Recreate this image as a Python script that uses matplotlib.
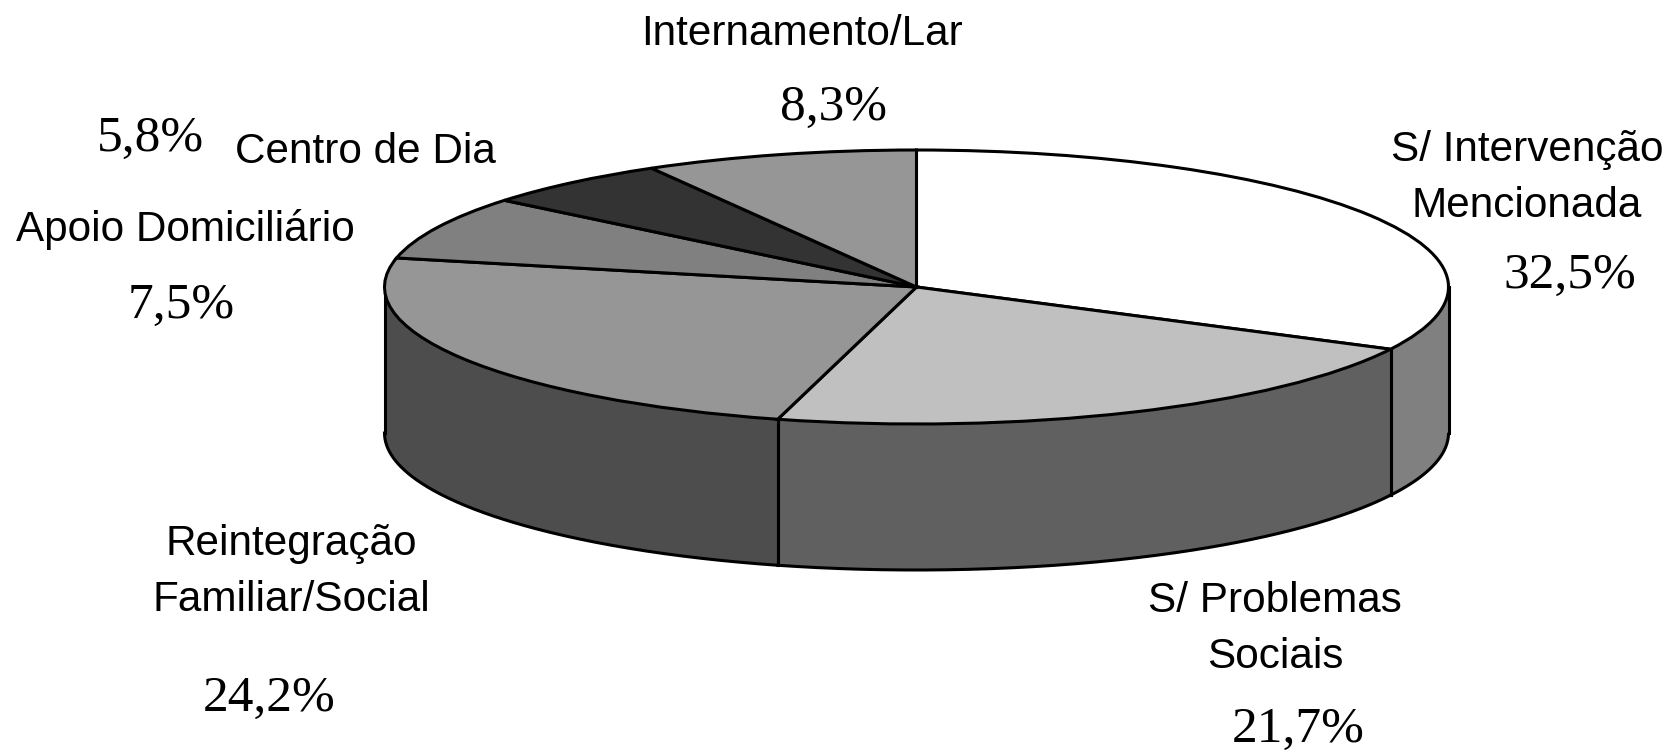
import numpy as np
import matplotlib
matplotlib.use("Agg")
import matplotlib.pyplot as plt

labels = ["S/ Intervenção\nMencionada", "S/ Problemas\nSociais", "Reintegração\nFamiliar/Social",
          "Apoio Domiciliário", "Centro de Dia", "Internamento/Lar"]
valores = [32.5, 21.7, 24.2, 7.5, 5.8, 8.3]
pct = ["32,5%", "21,7%", "24,2%", "7,5%", "5,8%", "8,3%"]
cores = ["#ffffff", "#c0c0c0", "#969696", "#808080", "#333333", "#969696"]
cores_lado = ["#808080", "#606060", "#4d4d4d", "#4d4d4d", "#333333", "#606060"]

W, H = 1671, 750
cx, cy = 916.5, 287
rx, ry = 532, 137
prof = 146 / ry  # espessura do bolo

fig = plt.figure(figsize=(W / 100, H / 100), dpi=100)
ax = fig.add_axes([0, 0, 1, 1])
ax.pie(valores, colors=cores, startangle=90, counterclock=False, radius=1,
       wedgeprops=dict(edgecolor="black", linewidth=2.2, zorder=3))
ax.set_aspect("auto")
ax.set_xlim(-cx / rx, (W - cx) / rx)
ax.set_ylim(-(H - cy) / ry, cy / ry)
ax.axis("off")

# lado do bolo, so a metade da frente
ang = 90 - np.cumsum([0] + valores) * 3.6
for i in range(len(valores)):
    a0, a1 = np.radians(ang[i]), np.radians(ang[i + 1])
    t = np.linspace(a0, a1, 200)
    t = t[np.sin(t) <= 0]
    if len(t) < 2:
        continue
    ax.fill_between(np.cos(t), np.sin(t), np.sin(t) - prof, color=cores_lado[i], linewidth=0, zorder=1)
    ax.plot(np.cos(t), np.sin(t) - prof, color="black", lw=2.2, zorder=2)
    # linhas verticais nas divisoes visiveis
    for a in (a0, a1):
        if np.sin(a) < 0:
            ax.plot([np.cos(a)] * 2, [np.sin(a), np.sin(a) - prof], color="black", lw=2.2, zorder=2)
for s in (-1, 1):
    ax.plot([s, s], [0, -prof], color="black", lw=2.2, zorder=2)


def px(x, y):
    return (x - cx) / rx, (cy - y) / ry


sans = dict(family="Liberation Sans", fontsize=30.4, ha="center", va="center", linespacing=1.49)
serif = dict(family="Liberation Serif", fontsize=37, ha="center", va="center")

pos_lab = [(1527, 178), (1275, 629), (291, 572), (185, 230), (365, 152), (802, 34)]
pos_pct = [(1570, 276), (1298, 730), (269, 699), (181, 306), (150, 139), (833, 108)]
for i in range(len(labels)):
    ax.text(*px(*pos_lab[i]), labels[i], **sans)
    ax.text(*px(*pos_pct[i]), pct[i], **serif)

fig.savefig("out.png", dpi=100)
